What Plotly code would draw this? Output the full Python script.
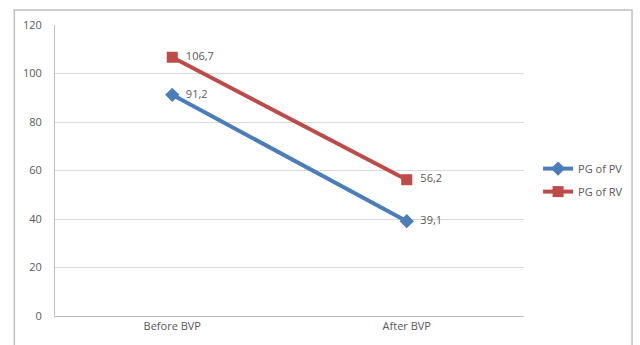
import plotly.graph_objects as go

categories = ["Before BVP", "After BVP"]
pg_pv = [91.2, 39.1]
pg_rv = [106.7, 56.2]
y_ticks = [0, 20, 40, 60, 80, 100, 120]

def fmt(v):
    return "  " + f"{v:.1f}".replace(".", ",")

font_family = "Open Sans, Liberation Sans, Arial, sans-serif"
txt_color = "#595959"

fig = go.Figure()
fig.add_trace(go.Scatter(
    x=categories, y=pg_pv, name="PG of PV", mode="lines+markers+text",
    legendgroup="pv",
    line=dict(color="#4A7EBB", width=4),
    marker=dict(symbol="diamond", size=11, color="#4A7EBB"),
    text=[fmt(v) for v in pg_pv], textposition="middle right",
    textfont=dict(size=11, color=txt_color, family=font_family),
))
fig.add_trace(go.Scatter(
    x=categories, y=pg_rv, name="PG of RV", mode="lines+markers+text",
    legendgroup="rv",
    line=dict(color="#BE4B48", width=4),
    marker=dict(symbol="square", size=11, color="#BE4B48"),
    text=[fmt(v) for v in pg_rv], textposition="middle right",
    textfont=dict(size=11, color=txt_color, family=font_family),
))

fig.update_layout(
    width=640, height=345,
    margin=dict(l=55, r=112, t=25, b=29),
    paper_bgcolor="white", plot_bgcolor="white",
    font=dict(family=font_family, size=11, color=txt_color),
    showlegend=True,
    legend=dict(x=1.03, y=0.467, xanchor="left", yanchor="middle",
                font=dict(size=11, color=txt_color),
                bgcolor="rgba(0,0,0,0)", tracegroupgap=4),
    xaxis=dict(type="category", range=[-0.5, 1.5], showgrid=False,
               showline=True, linecolor="#BFBFBF", linewidth=1,
               ticks="", tickfont=dict(size=11, color=txt_color)),
    yaxis=dict(range=[0, 120], tickvals=y_ticks, showgrid=True,
               gridcolor="#D9D9D9", gridwidth=1, zeroline=False,
               showline=True, linecolor="#BFBFBF", linewidth=1,
               ticks="", ticklabelstandoff=10,
               tickfont=dict(size=11, color=txt_color)),
    shapes=[dict(type="rect", xref="paper", yref="paper",
                 x0=-0.0867, x1=1.2304, y0=-0.2, y1=1.0515,
                 line=dict(color="#BFBFBF", width=1.5), layer="below")],
)

fig.write_html("out.html")
